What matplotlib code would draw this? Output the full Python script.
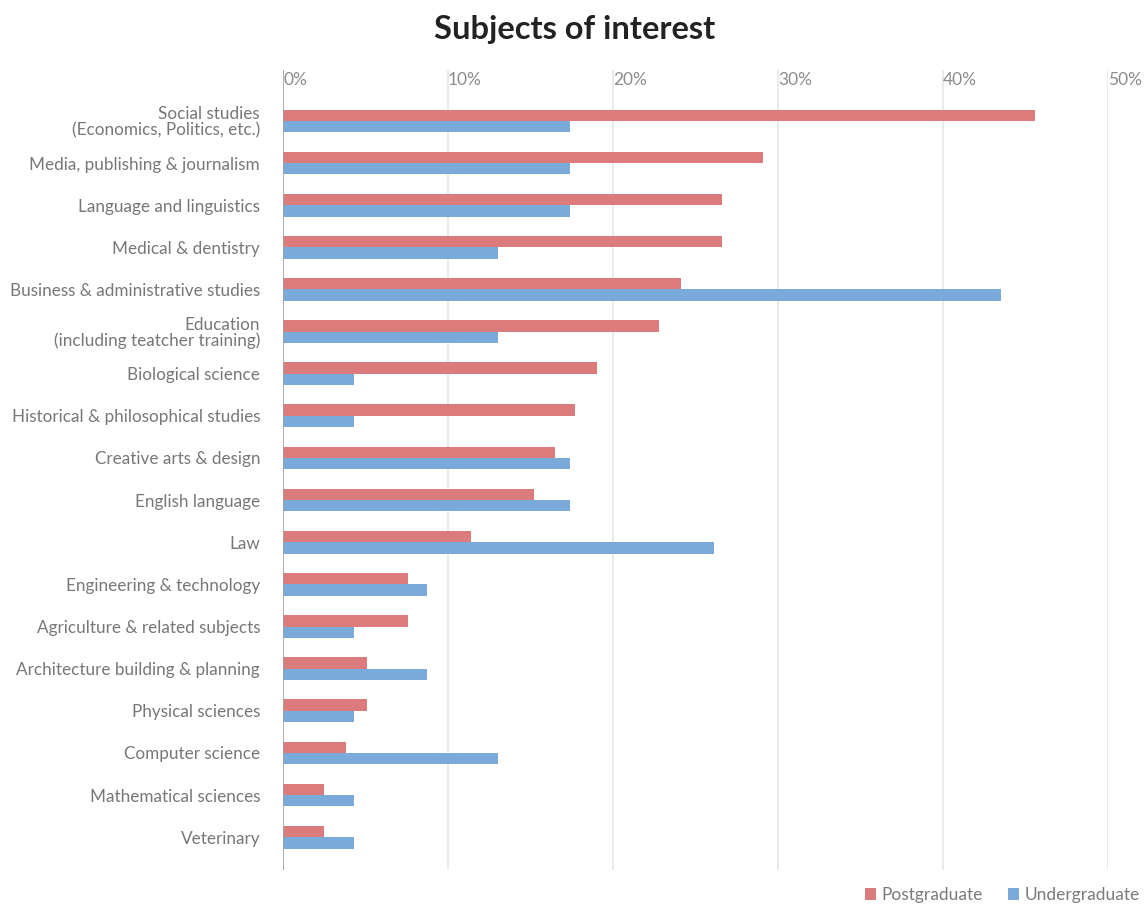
import numpy as np
import matplotlib
matplotlib.use('Agg')
import matplotlib.pyplot as plt

plt.rcParams['font.family'] = ['Lato', 'DejaVu Sans']

subjects = ['Social studies\n(Economics, Politics, etc.)',
            'Media, publishing & journalism',
            'Language and linguistics',
            'Medical & dentistry',
            'Business & administrative studies',
            'Education\n(including teatcher training)',
            'Biological science',
            'Historical & philosophical studies',
            'Creative arts & design',
            'English language',
            'Law',
            'Engineering & technology',
            'Agriculture & related subjects',
            'Architecture building & planning',
            'Physical sciences',
            'Computer science',
            'Mathematical sciences',
            'Veterinary']
postgraduate = [45.6, 29.1, 26.6, 26.6, 24.1, 22.8, 19.0, 17.7, 16.5, 15.2,
                11.4, 7.6, 7.6, 5.1, 5.1, 3.8, 2.5, 2.5]
undergraduate = [17.4, 17.4, 17.4, 13.0, 43.5, 13.0, 4.3, 4.3, 17.4, 17.4,
                 26.1, 8.7, 4.3, 8.7, 4.3, 13.0, 4.3, 4.3]
xticks = [0, 10, 20, 30, 40, 50]

red = '#db7b7b'
blue = '#7aaad9'

fig = plt.figure(figsize=(11.46, 9.05), dpi=100)
ax = fig.add_axes([283 / 1146, 1 - 870 / 905, 825 / 1146, 800 / 905])

y = np.arange(len(subjects))
h = 0.27
ax.barh(y - h / 2, postgraduate, height=h, color=red, label='Postgraduate')
ax.barh(y + h / 2, undergraduate, height=h, color=blue, label='Undergraduate')

ax.set_xlim(0, 50)
ax.set_ylim(17.78, -1.21)

for t in xticks:
    if t > 0:
        ax.axvline(t, color='#e6e6e6', linewidth=1.2, zorder=0)
    ax.text(t, 1.0 - 0.002, '%d%%' % t, transform=ax.get_xaxis_transform(),
            ha='left', va='top', fontsize=12.5, color='#8c8c8c')

ax.axvline(0, color='#a0a0a0', linewidth=1.2, zorder=3)

ax.set_xticks([])
ax.set_yticks(y)
ax.set_yticklabels(subjects, fontsize=12.3, color='#777777', linespacing=1.0)
ax.tick_params(axis='y', length=0, pad=16.5)
for s in ax.spines.values():
    s.set_visible(False)

fig.text(575 / 1146, 1 - 30 / 905, 'Subjects of interest', ha='center', va='center',
         fontsize=23.5, fontweight='bold', color='#222222')

ax.legend(loc='lower right', bbox_to_anchor=(1152 / 1146, -10 / 905),
          bbox_transform=fig.transFigure, ncol=2, frameon=False, fontsize=12.5,
          handlelength=0.65, handleheight=0.65, handletextpad=0.3, columnspacing=1.45,
          labelcolor='#7a7a7a', borderaxespad=0.3)

plt.savefig('out.png', dpi=100)
